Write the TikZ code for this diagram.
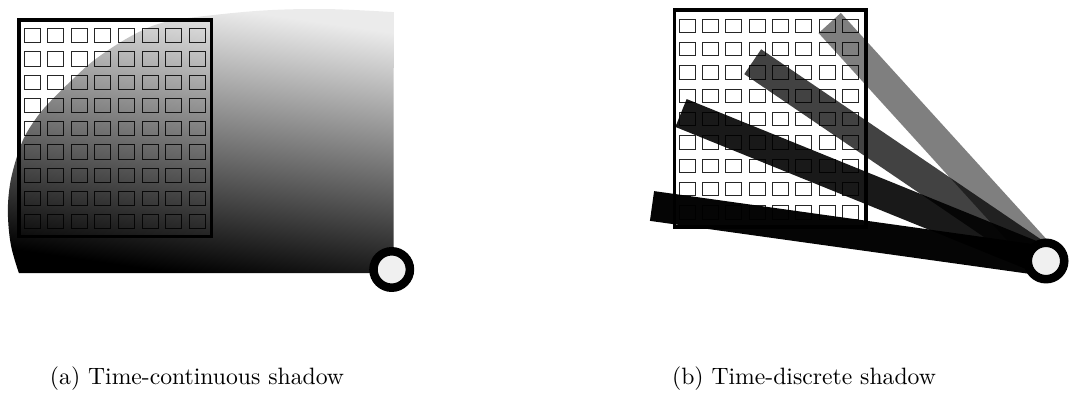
\documentclass[tikz,border=0pt]{standalone}
\usetikzlibrary{fadings}
\tikzfading[name=shadowfade, top color=transparent!92, middle color=transparent!40, bottom color=transparent!0]
\begin{document}
\begin{tikzpicture}[x=0.4226pt,y=-0.4226pt,
  gridframe/.style={draw=black,line width=1.3pt},
  gridsq/.style={draw=black!85,line width=0.4pt},
  ring/.style={circle,draw=black,line width=3.6pt,fill=black!6,minimum size=15.4pt,inner sep=0pt},
  beam/.style={draw=black,line width=12.7pt,line cap=butt},
  captext/.style={font=\normalsize,inner sep=0pt,anchor=base}]
\useasboundingbox (0,0) rectangle (1074,393);

% ---------- (a) time-continuous shadow ----------
\foreach \i in {0,...,7}{\foreach \j in {0,...,8}{
  \draw[gridsq] ({24+23.6*\i},{28.5+23.25*\j}) rectangle ++(16,14.3);}}
\fill[black,path fading=shadowfade,fading angle=-12]
  plot[smooth,tension=0.6] coordinates {(19,273) (11,245) (8,213) (10,185) (16,160) (24,138) (35,120) (47,105) (72,80) (97,58) (133,35) (165,22) (213,15) (270,10) (330,9) (394,12)}
  -- (394,273) -- cycle;
\draw[gridframe] (19,20) rectangle (211.5,236.7);
\node[ring] (srcA) at (391.7,269.5) {};

% ---------- (b) time-discrete shadow ----------
\foreach \i in {0,...,7}{\foreach \j in {0,...,8}{
  \draw[gridsq] ({679+23.33*\i},{19+23.33*\j}) rectangle ++(16,13.5);}}
\draw[gridframe] (674.5,10) rectangle (866,227);
\coordinate (srcBc) at (1046,261);
\coordinate (e1) at (652,206);
\coordinate (e2) at (681,113);
\coordinate (e3) at (752.7,61.7);
\coordinate (e4) at (829.7,23);
\draw[beam,draw opacity=0.5] (e4) -- (srcBc);
\draw[beam,draw opacity=0.74] (e3) -- (srcBc);
\draw[beam,draw opacity=0.9] (e2) -- (srcBc);
\draw[beam,draw opacity=0.98] (e1) -- (srcBc);
\node[ring] (srcB) at (srcBc) {};

% ---------- captions ----------
\node[captext] (capA) at (197,385) {(a) Time-continuous shadow};
\node[captext] (capB) at (804,385) {(b) Time-discrete shadow};
\end{tikzpicture}
\end{document}
